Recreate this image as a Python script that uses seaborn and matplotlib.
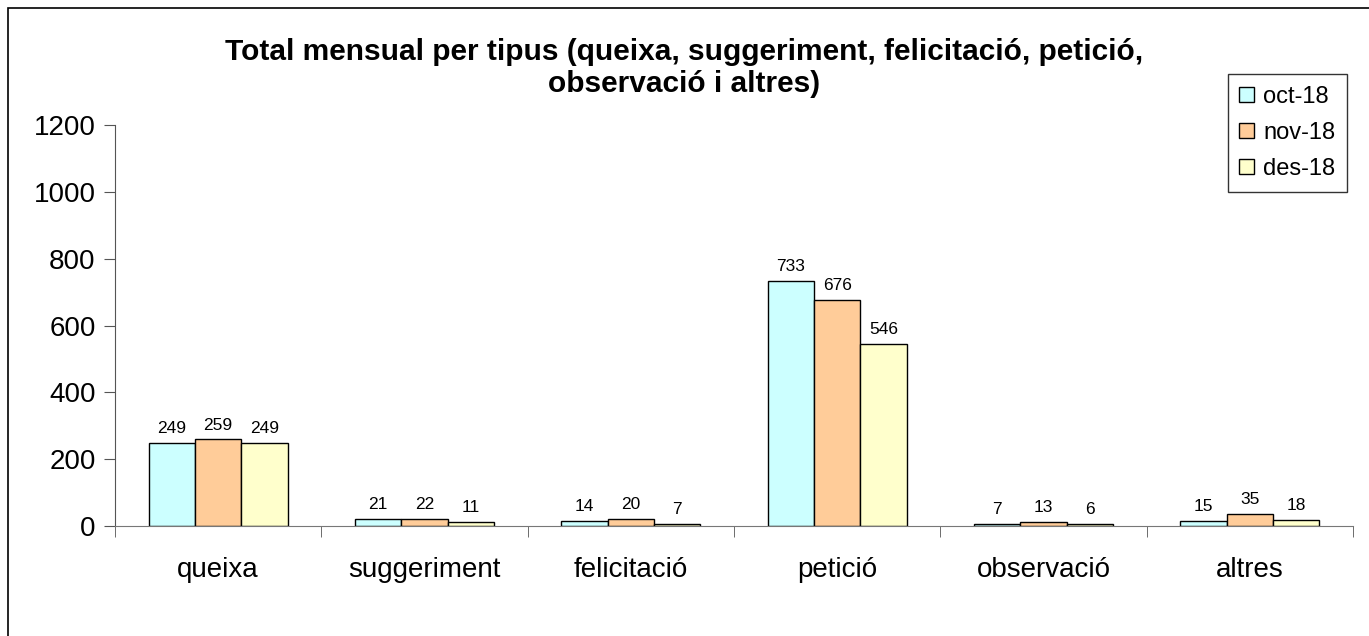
import pandas as pd
import matplotlib.pyplot as plt
import matplotlib.patches as mpatches
import seaborn as sns

# Data
categories = ['queixa', 'suggeriment', 'felicitació', 'petició', 'observació', 'altres']
months = ['oct-18', 'nov-18', 'des-18']
oct_18 = [249, 21, 14, 733, 7, 15]
nov_18 = [259, 22, 20, 676, 13, 35]
des_18 = [249, 11, 7, 546, 6, 18]
colors = ['#CCFFFF', '#FFCC99', '#FFFFCC']

df = pd.DataFrame({
    'tipus': categories * 3,
    'mes': [m for m in months for _ in categories],
    'total': oct_18 + nov_18 + des_18,
})

sns.set_style('white')
plt.rcParams['font.family'] = ['Liberation Sans', 'DejaVu Sans']
plt.rcParams['text.color'] = 'black'
plt.rcParams['xtick.labelcolor'] = 'black'
plt.rcParams['ytick.labelcolor'] = 'black'

fig = plt.figure(figsize=(13.69, 6.36), dpi=100)
ax = fig.add_axes([115 / 1369, 1 - 526 / 636, (1353 - 115) / 1369, (526 - 125) / 636])

sns.barplot(data=df, x='tipus', y='total', hue='mes', order=categories,
            hue_order=months, palette=colors, width=0.675, gap=0,
            edgecolor='black', linewidth=1, saturation=1, ax=ax, legend=False)

for cont in ax.containers:
    ax.bar_label(cont, padding=5, fontsize=12.5, color='black')

ax.set_ylim(0, 1200)
ax.set_yticks(range(0, 1201, 200))
ax.set_xlim(-0.5, 5.5)
ax.set_xlabel('')
ax.set_ylabel('')

ax.tick_params(axis='y', labelsize=20, length=8, direction='out', left=True,
               color='#555555', labelcolor='black', pad=6)
ax.tick_params(axis='x', which='major', labelsize=20, length=0, pad=22,
               labelcolor='black')
ax.set_xticks([i - 0.5 for i in range(7)], minor=True)
ax.tick_params(axis='x', which='minor', length=8, direction='out', bottom=True,
               color='#555555')

for s in ['top', 'right']:
    ax.spines[s].set_visible(False)
ax.spines['left'].set_color('#555555')
ax.spines['bottom'].set_color('#777777')

fig.suptitle('Total mensual per tipus (queixa, suggeriment, felicitació, petició,\nobservació i altres)',
             fontsize=21.5, fontweight='bold', x=0.5, y=1 - 38 / 636, va='top',
             linespacing=1.2, color='black')

handles = [mpatches.Patch(facecolor=c, edgecolor='black', label=m)
           for c, m in zip(colors, months)]
leg = fig.legend(handles=handles, loc='upper right',
                 bbox_to_anchor=(1347 / 1369, 1 - 74 / 636), fontsize=17,
                 frameon=True, fancybox=False, handlelength=0.6, handleheight=0.6,
                 handletextpad=0.4, borderpad=0.5, labelspacing=0.6,
                 borderaxespad=0)
leg.get_frame().set_edgecolor('black')
leg.get_frame().set_linewidth(1)

# outer chart border
fig.patches.append(mpatches.Rectangle((8 / 1369, -0.05), 1.1, 1 - 8 / 636 + 0.05,
                                      transform=fig.transFigure, fill=False,
                                      edgecolor='black', linewidth=1.2))

fig.savefig('out.png', dpi=100)
